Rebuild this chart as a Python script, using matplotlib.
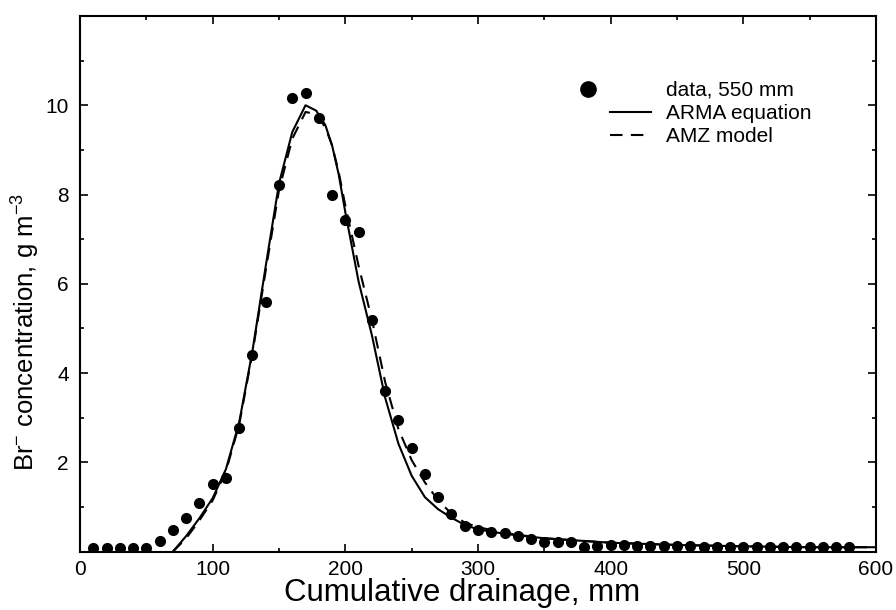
import matplotlib
matplotlib.use('Agg')
import matplotlib.pyplot as plt
from matplotlib.lines import Line2D
from matplotlib.legend_handler import HandlerLine2D
from matplotlib.ticker import MultipleLocator

plt.rcParams['font.family'] = ['Liberation Sans', 'DejaVu Sans']
plt.rcParams['mathtext.default'] = 'regular'

# measured Br- concentrations, every 10 mm of drainage
drain = [10, 20, 30, 40, 50, 60, 70, 80, 90, 100,
         110, 120, 130, 140, 150, 160, 170, 180, 190, 200,
         210, 220, 230, 240, 250, 260, 270, 280, 290, 300,
         310, 320, 330, 340, 350, 360, 370, 380, 390, 400,
         410, 420, 430, 440, 450, 460, 470, 480, 490, 500,
         510, 520, 530, 540, 550, 560, 570, 580]
conc = [0.08, 0.08, 0.08, 0.08, 0.08, 0.24, 0.49, 0.76, 1.10, 1.51,
        1.64, 2.76, 4.40, 5.60, 8.22, 10.16, 10.27, 9.71, 7.98, 7.44,
        7.16, 5.18, 3.60, 2.96, 2.33, 1.73, 1.22, 0.84, 0.58, 0.49,
        0.44, 0.42, 0.36, 0.29, 0.22, 0.22, 0.22, 0.11, 0.13, 0.16,
        0.14, 0.13, 0.13, 0.12, 0.12, 0.12, 0.11, 0.11, 0.11, 0.11,
        0.11, 0.11, 0.10, 0.10, 0.10, 0.10, 0.10, 0.10]

# ARMA equation (solid)
arma_x = [70, 80, 90, 100, 110, 120, 130, 140, 150, 160, 170, 178, 185, 190,
          195, 200, 210, 220, 230, 240, 250, 260, 270, 280, 290, 300, 320, 350,
          400, 450, 500, 550, 600]
arma_y = [0.0, 0.35, 0.75, 1.2, 1.85, 2.9, 4.5, 6.4, 8.25, 9.4, 10.0, 9.88, 9.55, 9.1,
          8.45, 7.6, 6.05, 4.85, 3.45, 2.42, 1.7, 1.22, 0.95, 0.76, 0.6, 0.5, 0.4, 0.3,
          0.2, 0.15, 0.12, 0.1, 0.1]

# AMZ model (dashed)
amz_x = [70, 80, 90, 100, 110, 120, 130, 140, 150, 160, 170, 178, 185, 190,
         195, 200, 210, 220, 230, 240, 250, 260, 270, 280, 290, 300, 320, 350,
         400, 450, 500, 550, 600]
amz_y = [0.0, 0.3, 0.7, 1.15, 1.8, 2.85, 4.45, 6.3, 8.1, 9.25, 9.85, 9.8, 9.5, 9.1,
         8.5, 7.75, 6.4, 5.2, 3.8, 2.75, 2.05, 1.55, 1.15, 0.85, 0.65, 0.55, 0.42, 0.3,
         0.2, 0.15, 0.12, 0.1, 0.1]

fig = plt.figure(figsize=(8.96, 6.10), dpi=100)
ax = fig.add_axes([0.0893, 0.0956, 0.8884, 0.8782])

ax.plot(arma_x, arma_y, color='black', lw=1.5, ls='-')
ax.plot(amz_x, amz_y, color='black', lw=1.5, ls=(0, (6, 4)))
ax.plot(drain, conc, 'o', color='black', ms=7, mec='black')

ax.set_xlim(0, 600)
ax.set_ylim(0, 12)
ax.xaxis.set_major_locator(MultipleLocator(100))
ax.xaxis.set_minor_locator(MultipleLocator(50))
ax.set_yticks([2, 4, 6, 8, 10])
ax.yaxis.set_minor_locator(MultipleLocator(1))
ax.tick_params(which='both', direction='in', top=True, right=True, width=1.2)
ax.tick_params(which='major', length=6, labelsize=15, pad=8)
ax.tick_params(axis='x', which='major', pad=6)
ax.tick_params(which='minor', length=3)
for s in ax.spines.values():
    s.set_linewidth(1.5)

ax.set_xlabel('Cumulative drainage, mm', fontsize=22.5, va='top')
ax.xaxis.set_label_coords(0.48, -0.05)
ax.set_ylabel('Br$^{-}$ concentration, g m$^{-3}$', fontsize=18.5)
ax.yaxis.set_label_coords(-0.048, 0.41)

dot = Line2D([], [], ls='none', marker='o', color='black', ms=11)
solid = Line2D([], [], color='black', lw=1.5)
dashed = Line2D([], [], color='black', lw=1.5, ls=(0, (6, 4)))
ax.legend([dot, solid, dashed], ['data, 550 mm', 'ARMA equation', 'AMZ model'],
          loc='upper left', bbox_to_anchor=(0.642, 0.914), frameon=False,
          fontsize=15, handlelength=2.0, handletextpad=0.7, labelspacing=0.2,
          handler_map={dot: HandlerLine2D(numpoints=1, xpad=-4.1)})

fig.savefig('out.png', dpi=100)
